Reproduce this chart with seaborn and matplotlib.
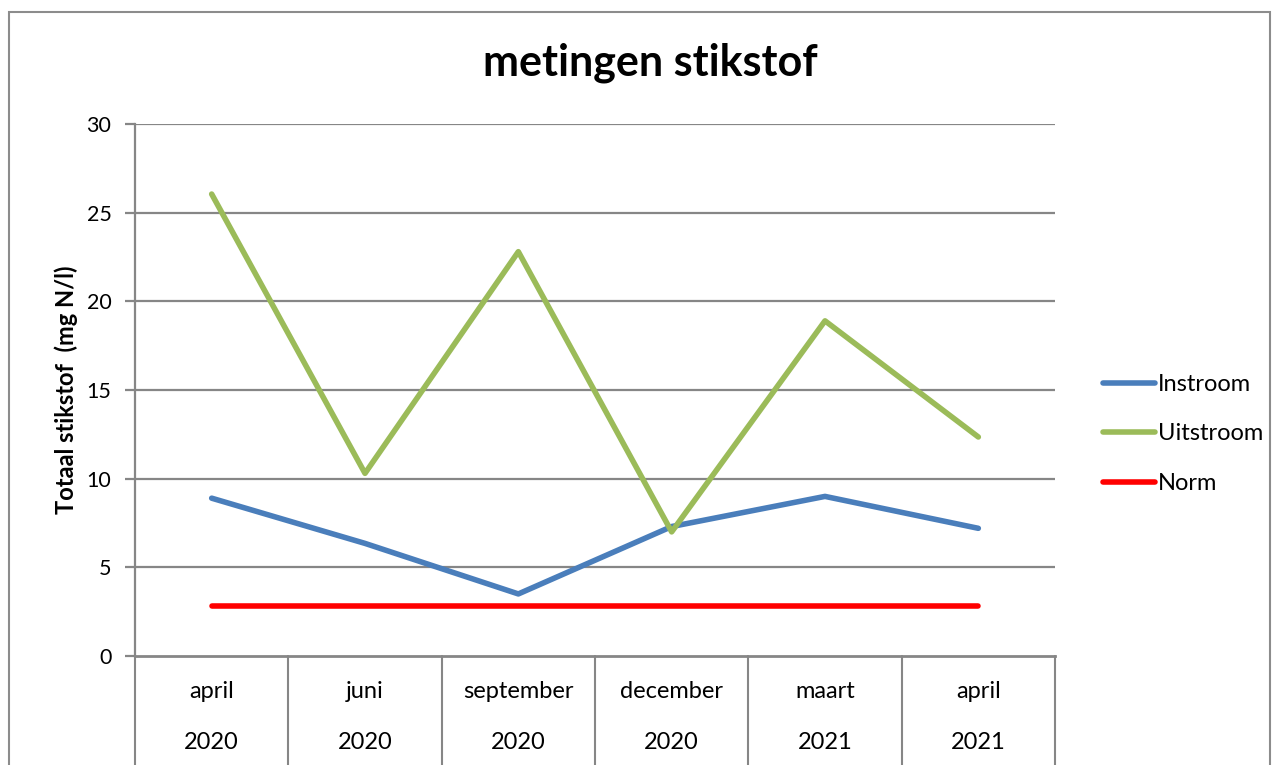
import pandas as pd
import numpy as np
import matplotlib
matplotlib.use('Agg')
import matplotlib.pyplot as plt
import matplotlib.transforms as mtransforms
from matplotlib.patches import Rectangle
import seaborn as sns

# ── Data ──────────────────────────────────────
months = ['april', 'juni', 'september', 'december', 'maart', 'april']
years = ['2020', '2020', '2020', '2020', '2021', '2021']
instroom = [8.9, 6.35, 3.5, 7.3, 9.0, 7.2]
uitstroom = [26.05, 10.3, 22.8, 7.0, 18.9, 12.35]
norm = [2.8, 2.8, 2.8, 2.8, 2.8, 2.8]

series_names = ['Instroom', 'Uitstroom', 'Norm']
colors = {'Instroom': '#4A7EBB', 'Uitstroom': '#9BBB59', 'Norm': '#FF0000'}

rows = []
for name, vals in zip(series_names, [instroom, uitstroom, norm]):
    for i, v in enumerate(vals):
        rows.append({'pos': i, 'waarde': v, 'reeks': name})
df = pd.DataFrame(rows)

# ── Style ─────────────────────────────────────
sns.set_style('white')
plt.rcParams['font.family'] = ['Lato', 'DejaVu Sans']
plt.rcParams['text.color'] = 'black'
plt.rcParams['axes.labelcolor'] = 'black'
plt.rcParams['ytick.labelcolor'] = 'black'

W, H = 1279, 765
fig = plt.figure(figsize=(W / 100, H / 100), dpi=100)

# outer chart frame
fig.patches.append(Rectangle((9 / W, -0.01), (1270 - 9) / W, (H - 12) / H + 0.01,
                             transform=fig.transFigure, fill=False,
                             edgecolor='#8c8c8c', linewidth=1.5))

ax = fig.add_axes([135 / W, (H - 656) / H, 920 / W, 532 / H])

grey = '#868686'
for y in range(5, 31, 5):
    ax.axhline(y, color=grey, linewidth=1.6, zorder=0)

sns.lineplot(data=df, x='pos', y='waarde', hue='reeks', palette=colors,
             hue_order=series_names, linewidth=4, ax=ax, legend=False,
             solid_capstyle='round')

ax.set_xlim(-0.5, 5.5)
ax.set_ylim(0, 30)
ax.set_yticks(range(0, 31, 5))
ax.set_xticks([])
ax.set_xlabel('')
ax.set_ylabel('Totaal stikstof  (mg N/l)', fontsize=17, fontweight='bold',
              labelpad=6)

for side in ['top', 'right']:
    ax.spines[side].set_visible(False)
ax.spines['left'].set_color(grey)
ax.spines['left'].set_linewidth(1.6)
ax.spines['bottom'].set_color(grey)
ax.spines['bottom'].set_linewidth(2)
ax.tick_params(axis='y', direction='out', length=7, width=1.6, color=grey,
               labelsize=15.5, pad=10, left=True)

# two-level category axis
trans = mtransforms.blended_transform_factory(ax.transData, ax.transAxes)
for b in np.arange(-0.5, 6.0, 1.0):
    ax.plot([b, b], [0, -0.22], transform=trans, color=grey, linewidth=1.5,
            clip_on=False)
for i, (m, yr) in enumerate(zip(months, years)):
    ax.text(i, -0.066, m, transform=trans, ha='center', va='center', fontsize=17)
    ax.text(i, -0.163, yr, transform=trans, ha='center', va='center', fontsize=17)

fig.text(650 / W, 1 - 63 / H, 'metingen stikstof', ha='center', va='center',
         fontsize=31, fontweight='bold')

# legend
handles = [plt.Line2D([0], [0], color=colors[n], linewidth=4,
                      solid_capstyle='round') for n in series_names]
fig.legend(handles, series_names, loc='center left',
           bbox_to_anchor=(1082 / W, 1 - 434 / H), frameon=False,
           fontsize=17, handlelength=2.2, handletextpad=0.1,
           labelspacing=1.2)

fig.savefig('out.png', dpi=100)
